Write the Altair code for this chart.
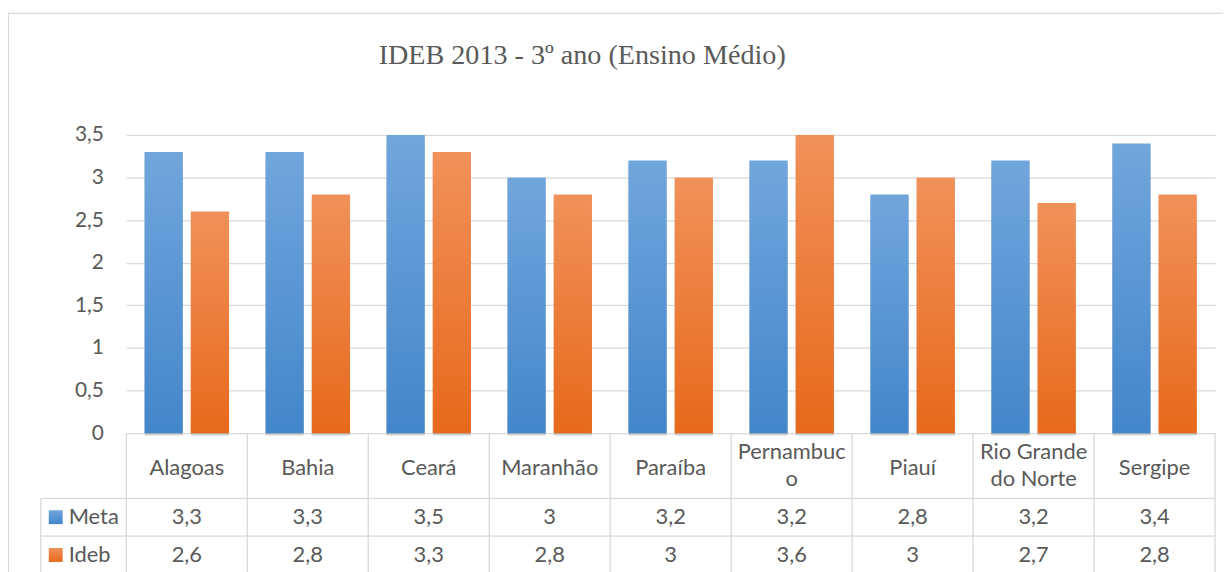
import altair as alt
import pandas as pd

# ---------------- data ----------------
estados = ["Alagoas", "Bahia", "Ceará", "Maranhão", "Paraíba", "Pernambuco",
           "Piauí", "Rio Grande do Norte", "Sergipe"]
rotulos = ["Alagoas", "Bahia", "Ceará", "Maranhão", "Paraíba", "Pernambuc\no",
           "Piauí", "Rio Grande\ndo Norte", "Sergipe"]
meta = [3.3, 3.3, 3.5, 3.0, 3.2, 3.2, 2.8, 3.2, 3.4]
ideb = [2.6, 2.8, 3.3, 2.8, 3.0, 3.6, 3.0, 2.7, 2.8]
series = ["Meta", "Ideb"]
y_ticks = [0, 0.5, 1, 1.5, 2, 2.5, 3, 3.5]
titulo = "IDEB 2013 - 3º ano (Ensino Médio)"

# ---------------- layout / style ----------------
W, H = 1095, 300
FONT = "Lato"
FS = 22
TXT = "#595959"
GRID = "#D9D9D9"
ROW_META, ROW_IDEB = 384.5, 422.5
HEAD_Y = 335.5
HEAD_Y2 = 318.5
LINE1, LINE2 = 365.5, 403.5
BOTTOM = 440
LEFT_COL = -86

def fmt(v):
    return f"{v:g}".replace(".", ",")

rows = []
for e, m, i in zip(estados, meta, ideb):
    rows.append({"estado": e, "serie": "Meta", "valor": m, "txt": fmt(m)})
    rows.append({"estado": e, "serie": "Ideb", "valor": i, "txt": fmt(i)})
df = pd.DataFrame(rows)
df_cat = pd.DataFrame({"estado": estados, "rotulo": rotulos})
one = pd.DataFrame({"k": [0]})

xs = alt.Scale(domain=estados, paddingInner=0, paddingOuter=0)
X = alt.X("estado:N", scale=xs, sort=estados, axis=None)
XO = alt.XOffset("serie:N", scale=alt.Scale(domain=series, paddingInner=0.172, paddingOuter=0.394))
Y = alt.Y("valor:Q", scale=alt.Scale(domain=[0, 3.5], clamp=True, nice=False, zero=True),
          axis=alt.Axis(values=y_ticks, domain=False, ticks=False, grid=True,
                        gridColor=GRID, gridWidth=1.3, labelColor=TXT, labelFont=FONT,
                        labelFontSize=21, labelPadding=23,
                        labelExpr="replace(format(datum.value, ''), '.', ',')"),
          title=None)

def grad(top, bottom):
    return alt.Gradient(gradient="linear", x1=0, x2=0, y1=0, y2=1,
                        stops=[alt.GradientStop(color=top, offset=0),
                               alt.GradientStop(color=bottom, offset=1)])

g_meta = grad("#71A6DC", "#4386CA")
g_ideb = grad("#F1915A", "#E7691B")

base = alt.Chart(df)

shadow1 = base.mark_bar(color="#000000", opacity=0.10, xOffset=3, yOffset=2).encode(x=X, xOffset=XO, y=Y)
shadow2 = base.mark_bar(color="#000000", opacity=0.06, xOffset=5, yOffset=3).encode(x=X, xOffset=XO, y=Y)
bar_meta = base.transform_filter("datum.serie == 'Meta'").mark_bar(color=g_meta).encode(x=X, xOffset=XO, y=Y)
bar_ideb = base.transform_filter("datum.serie == 'Ideb'").mark_bar(color=g_ideb).encode(x=X, xOffset=XO, y=Y)

txt_kw = dict(font=FONT, fontSize=FS, color=TXT, baseline="middle", align="center")

cat = alt.Chart(df_cat)
head1 = cat.transform_filter("indexof(datum.rotulo, '\\n') < 0").mark_text(**txt_kw).encode(
    x=X, y=alt.value(HEAD_Y), text="rotulo:N")
head2 = cat.transform_filter("indexof(datum.rotulo, '\\n') >= 0").mark_text(
    lineBreak="\n", lineHeight=28, **txt_kw).encode(
    x=X, y=alt.value(HEAD_Y2), text="rotulo:N")
val_meta = base.transform_filter("datum.serie == 'Meta'").mark_text(**txt_kw).encode(
    x=X, y=alt.value(ROW_META), text="txt:N")
val_ideb = base.transform_filter("datum.serie == 'Ideb'").mark_text(**txt_kw).encode(
    x=X, y=alt.value(ROW_IDEB), text="txt:N")

rule_kw = dict(color=GRID, strokeWidth=1.3)
vlines = cat.mark_rule(**rule_kw).encode(
    x=alt.X("estado:N", scale=xs, sort=estados, axis=None, bandPosition=0),
    y=alt.value(H), y2=alt.value(BOTTOM))
vright = alt.Chart(one).mark_rule(**rule_kw).encode(x=alt.value(W), y=alt.value(H), y2=alt.value(BOTTOM))
vleft = alt.Chart(one).mark_rule(**rule_kw).encode(x=alt.value(LEFT_COL), y=alt.value(LINE1), y2=alt.value(BOTTOM))
h1 = alt.Chart(one).mark_rule(**rule_kw).encode(x=alt.value(LEFT_COL), x2=alt.value(W), y=alt.value(LINE1))
h2 = alt.Chart(one).mark_rule(**rule_kw).encode(x=alt.value(LEFT_COL), x2=alt.value(W), y=alt.value(LINE2))

leg_meta = alt.Chart(one).mark_rect(color=g_meta).encode(
    x=alt.value(-78), x2=alt.value(-64), y=alt.value(ROW_META - 7), y2=alt.value(ROW_META + 7))
leg_ideb = alt.Chart(one).mark_rect(color=g_ideb).encode(
    x=alt.value(-78), x2=alt.value(-64), y=alt.value(ROW_IDEB - 7), y2=alt.value(ROW_IDEB + 7))
leg_kw = dict(font=FONT, fontSize=FS, color=TXT, baseline="middle", align="left")
leg_t_meta = alt.Chart(one).mark_text(**leg_kw).encode(
    x=alt.value(-58), y=alt.value(ROW_META), text=alt.value(series[0]))
leg_t_ideb = alt.Chart(one).mark_text(**leg_kw).encode(
    x=alt.value(-58), y=alt.value(ROW_IDEB), text=alt.value(series[1]))

border_top = alt.Chart(one).mark_rule(**rule_kw).encode(x=alt.value(-118.7), x2=alt.value(1103), y=alt.value(-122.2))
border_left = alt.Chart(one).mark_rule(**rule_kw).encode(x=alt.value(-118.7), y=alt.value(-122.2), y2=alt.value(BOTTOM))

title = alt.Chart(one).mark_text(font="Liberation Serif", fontSize=28.3, color=TXT,
                                 align="center", baseline="alphabetic").encode(
    x=alt.value(458.5), y=alt.value(-71.5), text=alt.value(titulo))

chart = alt.layer(
    shadow2, shadow1, bar_meta, bar_ideb,
    vlines, vright, vleft, h1, h2,
    head1, head2, val_meta, val_ideb,
    leg_meta, leg_ideb, leg_t_meta, leg_t_ideb,
    border_top, border_left, title,
).properties(
    width=W, height=H,
    padding={"left": -1, "top": 3, "right": 0, "bottom": 0},
    background="white",
).configure_view(stroke=None)

chart.save("out.html", embed_options={"renderer": "svg", "actions": False})
